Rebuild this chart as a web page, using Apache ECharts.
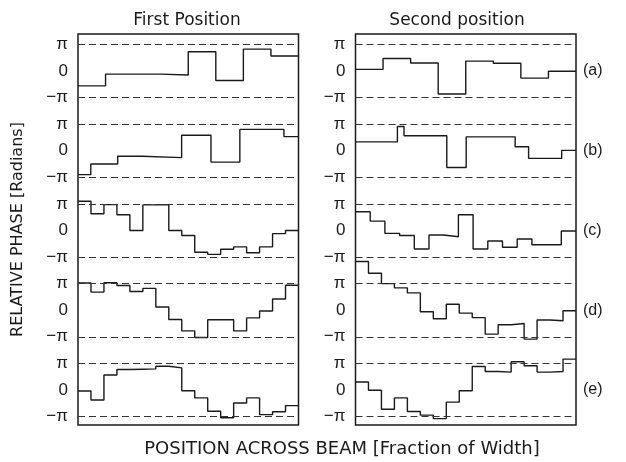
<!DOCTYPE html>
<html>
<head>
<meta charset="utf-8">
<script src="https://cdn.jsdelivr.net/npm/echarts@6/dist/echarts.min.js"></script>
<style>
html, body { margin: 0; background: #fff; }
#chart { width: 626px; height: 462px; }
</style>
</head>
<body>
<div id="chart"></div>
<script>
// relative phase of each sample, in units of pi
var rowLabels = ['(a)', '(b)', '(c)', '(d)', '(e)'];
var tickLabels = ['\u2212\u03c0', '0', '\u03c0'];
var panelTitles = ['First Position', 'Second position'];

var firstA = [-0.56, -0.12, -0.12, -0.15, 0.72, -0.36, 0.82, 0.56];
var firstB = [-0.90, -0.50, -0.21, -0.26, 0.58, -0.43, 0.80, 0.53];
var firstBEdges = [0, 0.058, 0.18, 0.29, 0.47, 0.603, 0.734, 0.934, 1];
var firstC = [1.10, 0.63, 0.97, 0.59, 0.0, 0.96, 0.97, 0.0, -0.19, -0.82, -0.90, -0.71, -0.62, -0.84, -0.62, -0.12, 0.0];
var firstD = [1.02, 0.68, 1.03, 0.93, 0.70, 0.82, 0.12, -0.35, -0.78, -1.03, -0.36, -0.36, -0.78, -0.29, -0.03, 0.42, 0.94];
var firstE = [-0.04, -0.38, 0.56, 0.77, 0.78, 0.79, 0.89, 0.83, -0.03, -0.30, -0.80, -1.05, -0.49, -0.30, -0.93, -0.82, -0.59];

var secondA = [0.06, 0.47, 0.30, -0.87, 0.37, 0.29, -0.27, -0.01];
var secondB = [0.33, 0.91, 0.56, -0.63, 0.52, 0.15, -0.29, 0.01];
var secondBEdges = [0, 0.19, 0.22, 0.414, 0.502, 0.724, 0.785, 0.935, 1];
var secondC = [0.70, 0.35, -0.11, -0.19, -0.70, -0.17, -0.24, 0.59, -0.70, -0.40, -0.63, -0.32, -0.54, -0.54, -0.02];
var secondD = [1.83, 1.39, 1.00, 0.84, 0.65, -0.06, -0.32, 0.22, -0.11, -0.28, -0.90, -0.55, -0.50, -1.09, -0.37, -0.40, -0.02];
var secondE = [0.30, -0.01, -0.73, -0.30, -0.81, -0.95, -1.08, -0.46, -0.03, 0.88, 0.69, 0.67, 1.06, 0.91, 0.67, 0.69, 1.16];

var panels = [
    [[firstA], [firstB, firstBEdges], [firstC], [firstD], [firstE]],
    [[secondA], [secondB, secondBEdges], [secondC], [secondD], [secondE]]
];

var ROW_GAP = 3;   // rows are stacked 3 pi apart
var FONT = 'Liberation Sans';
var WIDE_FONT = 'DejaVu Sans';
var INK = '#1a1a1a';

function steps(values, edges, row) {
    var n = values.length;
    var pts = [];
    for (var i = 0; i < n; i++) {
        pts.push([edges ? edges[i] : i / n, values[i] - ROW_GAP * row]);
    }
    pts.push([1, values[n - 1] - ROW_GAP * row]);
    return pts;
}

var phaseTicks = [];
var rowCentres = [];
for (var r = 0; r < rowLabels.length; r++) {
    phaseTicks.push(1 - ROW_GAP * r, -ROW_GAP * r, -1 - ROW_GAP * r);
    rowCentres.push(-ROW_GAP * r);
}

function phaseLabel(v) {
    var row = Math.round(-v / ROW_GAP);
    return tickLabels[Math.round(v + ROW_GAP * row) + 1];
}

var series = [];
panels.forEach(function (rows, p) {
    rows.forEach(function (row, r) {
        series.push({
            type: 'line',
            step: 'end',
            xAxisIndex: p,
            yAxisIndex: p,
            symbol: 'none',
            clip: false,
            lineStyle: { color: INK, width: 1.4 },
            data: steps(row[0], row[1], r),
            markLine: {
                silent: true,
                symbol: 'none',
                label: { show: false },
                lineStyle: { color: '#333', width: 1.2, type: [7, 4] },
                data: [{ yAxis: 1 - ROW_GAP * r }, { yAxis: -1 - ROW_GAP * r }]
            }
        });
    });
});

var yMin = -13.32, yMax = 1.39;
var phaseLabelStyle = {
    customValues: phaseTicks,
    formatter: phaseLabel,
    margin: 10,
    color: INK,
    fontSize: 17,
    fontFamily: FONT
};
var textStyle = { fontSize: 17, fontWeight: 'normal', color: INK, fontFamily: WIDE_FONT };

var myChart = echarts.init(document.getElementById('chart'));

option = {
    animation: false,
    backgroundColor: '#fff',
    title: [
        { text: panelTitles[0], left: 182, top: 7, textAlign: 'center', textStyle: textStyle },
        { text: panelTitles[1], left: 452, top: 7, textAlign: 'center', textStyle: textStyle },
        { text: 'POSITION ACROSS BEAM [Fraction of Width]', left: 337, top: 435, textAlign: 'center',
          textStyle: { fontSize: 18, fontWeight: 'normal', color: INK, fontFamily: WIDE_FONT } }
    ],
    grid: [
        { left: 78, width: 220.5, top: 34, height: 391, show: true, borderColor: INK, borderWidth: 1.5 },
        { left: 355.5, width: 220.5, top: 34, height: 391, show: true, borderColor: INK, borderWidth: 1.5 }
    ],
    xAxis: [
        { gridIndex: 0, type: 'value', min: 0, max: 1, show: false },
        { gridIndex: 1, type: 'value', min: 0, max: 1, show: false }
    ],
    yAxis: [
        {
            gridIndex: 0, type: 'value', min: yMin, max: yMax,
            name: 'RELATIVE PHASE [Radians]',
            nameLocation: 'middle',
            nameGap: 52,
            nameRotate: 90,
            nameTextStyle: { fontSize: 16, color: INK, fontFamily: WIDE_FONT },
            axisLine: { show: false },
            axisTick: { show: false },
            splitLine: { show: false },
            axisLabel: phaseLabelStyle
        },
        {
            gridIndex: 1, type: 'value', min: yMin, max: yMax,
            axisLine: { show: false },
            axisTick: { show: false },
            splitLine: { show: false },
            axisLabel: phaseLabelStyle
        },
        {
            gridIndex: 1, type: 'value', min: yMin, max: yMax, position: 'right',
            axisLine: { show: false },
            axisTick: { show: false },
            splitLine: { show: false },
            axisLabel: {
                customValues: rowCentres,
                formatter: function (v) { return rowLabels[Math.round(-v / ROW_GAP)]; },
                margin: 7,
                color: INK,
                fontSize: 16,
                fontFamily: FONT
            }
        }
    ],
    series: series
};

myChart.setOption(option);
</script>
</body>
</html>
